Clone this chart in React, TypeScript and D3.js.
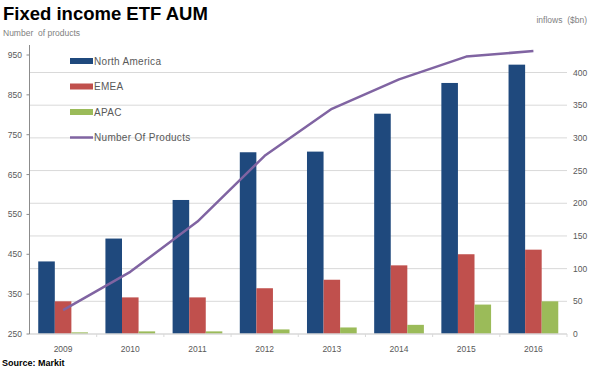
import React from "react";
import * as d3 from "d3";

// values
const years = ["2009", "2010", "2011", "2012", "2013", "2014", "2015", "2016"];
const northAmerica = [111, 146, 205, 278, 279, 337, 384, 412];
const emea = [50, 56, 56, 70, 83, 105, 122, 129];
const apac = [2.5, 4, 4, 7, 10, 14, 45, 50];
const numberOfProducts = [310, 406, 532, 697, 815, 889, 946, 960];

const leftTicks = [250, 350, 450, 550, 650, 750, 850, 950];
const rightTicks = [0, 50, 100, 150, 200, 250, 300, 350, 400];

const seriesNames = ["North America", "EMEA", "APAC"];
const seriesColors = ["#1F497D", "#C0504D", "#9BBB59"];
const lineColor = "#8064A2";
const legendNames = ["North America", "EMEA", "APAC", "Number Of Products"];

const W = 590,
  H = 371;
const x0 = 29.5,
  x1 = 567,
  yBase = 334;

const font = "'Liberation Sans', Arial, sans-serif";
const grey = "#595959";

export default function App() {
  const x = d3.scaleBand<string>().domain(years).range([x0, x1]);
  const bw = x.bandwidth();
  const xSub = d3
    .scaleBand<string>()
    .domain(seriesNames)
    .range([bw * 0.13, bw * 0.87]);

  // bars on right axis ($bn), line on left axis (number of products)
  const yRight = d3.scaleLinear().domain([0, 400]).range([yBase, 72.5]);
  const yLeft = d3.scaleLinear().domain([250, 950]).range([yBase, 55]);

  const allSeries = [northAmerica, emea, apac];

  const line = d3
    .line<number>()
    .x((d, i) => (x(years[i]) as number) + bw / 2)
    .y((d) => yLeft(d));

  return (
    <svg
      width={W}
      height={H}
      style={{ position: "absolute", left: 0, top: 0 }}
      fontFamily={font}
    >
      <rect width={W} height={H} fill="#fff" />
      <text x={3} y={20} fontSize={18.5} fontWeight="bold" fill="#000">
        Fixed income ETF AUM
      </text>
      <text x={3} y={36} fontSize={8.5} fill="#7f7f7f">
        Number&#160; of products
      </text>
      <text x={587} y={23} fontSize={8.5} fill="#7f7f7f" textAnchor="end">
        inflows&#160; ($bn)
      </text>

      {/* gridlines from right axis */}
      {rightTicks.slice(1).map((t) => (
        <line
          key={"g" + t}
          x1={x0}
          x2={x1}
          y1={yRight(t)}
          y2={yRight(t)}
          stroke="#d9d9d9"
          strokeWidth={1}
        />
      ))}

      {/* bars */}
      {allSeries.map((vals, si) =>
        vals.map((v, i) => (
          <rect
            key={si + "-" + i}
            x={(x(years[i]) as number) + (xSub(seriesNames[si]) as number)}
            y={yRight(v)}
            width={xSub.bandwidth()}
            height={yBase - yRight(v)}
            fill={seriesColors[si]}
          />
        ))
      )}

      {/* x axis */}
      <line x1={x0} x2={x1} y1={yBase} y2={yBase} stroke="#d9d9d9" strokeWidth={1.5} />
      {years.map((yr, i) => (
        <line
          key={"xt" + yr}
          x1={(x(yr) as number) + bw}
          x2={(x(yr) as number) + bw}
          y1={yBase}
          y2={yBase + 3}
          stroke="#d9d9d9"
        />
      ))}
      {years.map((yr) => (
        <text
          key={"xl" + yr}
          x={(x(yr) as number) + bw / 2}
          y={352}
          fontSize={8.5}
          fill={grey}
          textAnchor="middle"
        >
          {yr}
        </text>
      ))}

      {/* left axis */}
      <line x1={x0} x2={x0} y1={45} y2={yBase} stroke="#8c8c8c" strokeWidth={1} />
      {leftTicks.map((t) => (
        <g key={"l" + t}>
          <line x1={x0 - 3} x2={x0} y1={yLeft(t)} y2={yLeft(t)} stroke="#8c8c8c" />
          <text
            x={22}
            y={yLeft(t) + 3}
            fontSize={8.5}
            fill={grey}
            textAnchor="end"
          >
            {t}
          </text>
        </g>
      ))}

      {/* right axis labels */}
      {rightTicks.map((t) => (
        <text key={"r" + t} x={573} y={yRight(t) + 3} fontSize={8.5} fill={grey}>
          {t}
        </text>
      ))}

      {/* number of products line */}
      <path
        d={line(numberOfProducts) || ""}
        fill="none"
        stroke={lineColor}
        strokeWidth={2.5}
        strokeLinejoin="round"
      />

      {/* legend */}
      {legendNames.map((name, i) => {
        const ly = 61 + i * 25.5;
        return (
          <g key={"lg" + name}>
            {i < 3 ? (
              <rect x={70} y={ly - 3} width={23} height={6} fill={seriesColors[i]} />
            ) : (
              <line x1={70} x2={93} y1={ly} y2={ly} stroke={lineColor} strokeWidth={2.5} />
            )}
            <text x={94} y={ly + 3.5} fontSize={10} fill={grey} letterSpacing={0.3}>
              {name}
            </text>
          </g>
        );
      })}

      <text x={2} y={366} fontSize={9} fontWeight="bold" fill="#000">
        Source: Markit
      </text>
    </svg>
  );
}
